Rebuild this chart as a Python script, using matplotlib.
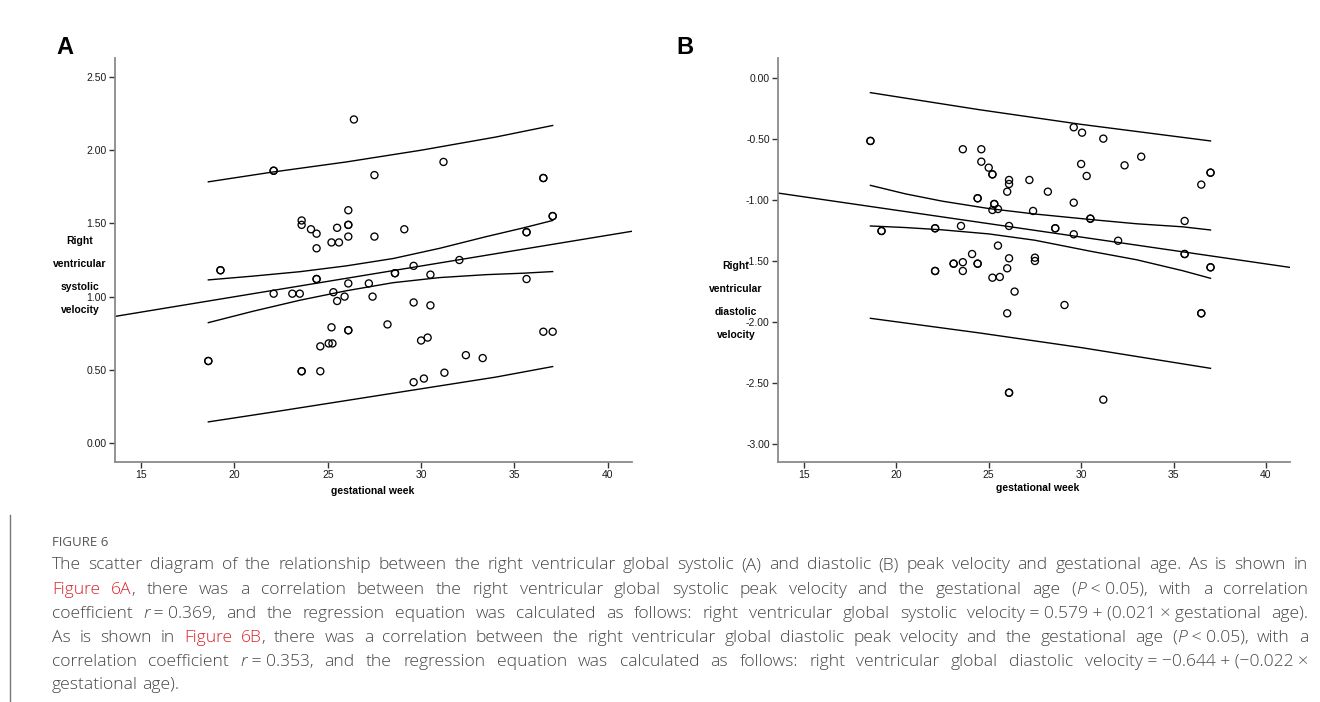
import matplotlib
matplotlib.use("Agg")
import matplotlib.pyplot as plt
import numpy as np

W, H = 1320, 702

# ---- panel A: right ventricular systolic velocity vs gestational week ----
weeks_a = [18.6, 18.6, 19.25, 19.25, 22.1, 22.1, 22.1, 23.1, 23.5, 23.6, 23.6, 23.6, 23.6,
           24.1, 24.4, 24.4, 24.4, 24.4, 24.6, 24.6, 25.05, 25.2, 25.2, 25.25, 25.3,
           25.5, 25.5, 25.6, 25.9, 26.1, 26.1, 26.1, 26.1, 26.1, 26.1, 26.1, 26.4,
           27.2, 27.4, 27.5, 27.5, 28.2, 28.6, 28.6, 29.1, 29.6, 29.6, 29.6, 30.0,
           30.15, 30.35, 30.5, 30.5, 31.2, 31.25, 32.05, 32.4, 33.3, 35.65, 35.65,
           35.65, 36.55, 36.55, 36.55, 37.05, 37.05, 37.05]
sys_vel = [0.56, 0.56, 1.18, 1.18, 1.86, 1.86, 1.02, 1.02, 1.02, 1.52, 1.49, 0.49, 0.49,
           1.46, 1.43, 1.33, 1.12, 1.12, 0.66, 0.49, 0.68, 1.37, 0.79, 0.68, 1.03,
           1.47, 0.97, 1.37, 1.00, 1.59, 1.49, 1.49, 1.41, 1.09, 0.77, 0.77, 2.21,
           1.09, 1.00, 1.83, 1.41, 0.81, 1.16, 1.16, 1.46, 1.21, 0.96, 0.415, 0.70,
           0.44, 0.72, 1.15, 0.94, 1.92, 0.48, 1.25, 0.60, 0.58, 1.44, 1.44,
           1.12, 1.81, 1.81, 0.76, 1.55, 1.55, 0.76]

# regression from caption: intercept, slope
fit_a = (0.579, 0.021)
# mean confidence band
ci_x_a = [18.6, 21.0, 23.5, 26.0, 28.5, 31.0, 33.5, 35.5, 37.05]
ci_hi_a = [1.114, 1.14, 1.17, 1.21, 1.26, 1.33, 1.41, 1.47, 1.52]
ci_lo_a = [0.822, 0.90, 0.975, 1.04, 1.095, 1.13, 1.15, 1.16, 1.171]
# individual prediction band
pi_x_a = [18.6, 22.0, 26.0, 30.0, 34.0, 37.05]
pi_hi_a = [1.784, 1.85, 1.92, 2.00, 2.09, 2.169]
pi_lo_a = [0.144, 0.21, 0.29, 0.37, 0.45, 0.522]

# ---- panel B: right ventricular diastolic velocity vs gestational week ----
weeks_b = [18.6, 18.6, 19.2, 19.2, 22.1, 22.1, 22.1, 22.1, 23.1, 23.1, 23.5, 23.6, 23.6,
           23.6, 24.1, 24.4, 24.4, 24.4, 24.4, 24.6, 24.6, 25.0, 25.2, 25.2, 25.2,
           25.2, 25.3, 25.3, 25.5, 25.5, 25.6, 26.0, 26.0, 26.0, 26.1, 26.1, 26.1,
           26.1, 26.1, 26.1, 26.4, 27.2, 27.4, 27.5, 27.5, 28.2, 28.6, 28.6, 29.1,
           29.6, 29.6, 29.6, 30.0, 30.05, 30.3, 30.5, 30.5, 31.2, 31.2, 32.0, 32.35,
           33.25, 35.6, 35.6, 35.6, 36.5, 36.5, 36.5, 37.0, 37.0, 37.0, 37.0]
dia_vel = [-0.516, -0.516, -1.254, -1.254, -1.232, -1.232, -1.582, -1.582, -1.522, -1.522,
           -1.213, -0.584, -1.51, -1.582, -1.443, -0.986, -0.986, -1.522, -1.522, -0.584,
           -0.686, -0.735, -0.79, -0.79, -1.082, -1.637, -1.033, -1.033, -1.074, -1.374,
           -1.631, -0.932, -1.56, -1.929, -0.836, -0.869, -1.213, -1.478, -2.58, -2.58,
           -1.751, -0.836, -1.09, -1.473, -1.50, -0.932, -1.232, -1.232, -1.861,
           -0.404, -1.022, -1.281, -0.705, -0.448, -0.803, -1.153, -1.153, -0.497,
           -2.637, -1.334, -0.716, -0.645, -1.172, -1.443, -1.443, -0.874, -1.929,
           -1.929, -0.776, -0.776, -1.552, -1.552]

fit_b = (-0.644, -0.022)
ci_x_b = [18.6, 20.5, 22.5, 25.0, 27.5, 30.5, 33.0, 35.5, 37.0]
ci_hi_b = [-0.88, -0.95, -1.01, -1.07, -1.115, -1.16, -1.195, -1.22, -1.246]
ci_lo_b = [-1.213, -1.226, -1.245, -1.278, -1.33, -1.42, -1.49, -1.58, -1.642]
pi_x_b = [18.6, 24.5, 30.0, 37.0]
pi_hi_b = [-0.12, -0.26, -0.38, -0.516]
pi_lo_b = [-1.97, -2.09, -2.21, -2.38]

x_ticks = [15, 20, 25, 30, 35, 40]
y_ticks_a = [0.0, 0.5, 1.0, 1.5, 2.0, 2.5]
y_ticks_b = [-3.0, -2.5, -2.0, -1.5, -1.0, -0.5, 0.0]

CHART_FONT = ["Liberation Sans", "DejaVu Sans"]
CAP_FONT = ["Open Sans", "DejaVu Sans"]
CAP_GREY = "#474747"
CAP_RED = "#d9262e"


def fx(px):
    return px / W


def fy(py):
    return 1 - py / H


def draw_panel(ax, weeks, vals, fit, ci_x, ci_hi, ci_lo, pi_x, pi_hi, pi_lo, yticks, ylim):
    ax.set_xlim(13.6, 41.3)
    ax.set_ylim(*ylim)
    xs = np.array(ax.get_xlim())
    ax.plot(xs, fit[0] + fit[1] * xs, color="black", lw=1.0)
    for bx, by in ((ci_x, ci_hi), (ci_x, ci_lo), (pi_x, pi_hi), (pi_x, pi_lo)):
        ax.plot(bx, by, color="black", lw=1.0)
    ax.scatter(weeks, vals, s=26, facecolors="none", edgecolors="black", linewidths=0.95, zorder=3)
    for side in ("top", "right"):
        ax.spines[side].set_visible(False)
    for side in ("left", "bottom"):
        ax.spines[side].set_color("#8a8a8a")
        ax.spines[side].set_linewidth(1.3)
    ax.set_xticks(x_ticks)
    ax.set_yticks(yticks)
    ax.set_yticklabels([f"{v:.2f}" for v in yticks])
    ax.tick_params(direction="out", length=4, width=1, color="#333", labelsize=7.5,
                   labelcolor="#1a1a1a", pad=2)
    for lab in ax.get_xticklabels() + ax.get_yticklabels():
        lab.set_family(CHART_FONT)


fig = plt.figure(figsize=(W / 100, H / 100), dpi=100)

ax_a = fig.add_axes([fx(115), fy(462), fx(632 - 115), (462 - 58) / H])
draw_panel(ax_a, weeks_a, sys_vel, fit_a, ci_x_a, ci_hi_a, ci_lo_a, pi_x_a, pi_hi_a, pi_lo_a,
           y_ticks_a, (-0.13, 2.63))

ax_b = fig.add_axes([fx(778), fy(462), fx(1290 - 778), (462 - 58) / H])
draw_panel(ax_b, weeks_b, dia_vel, fit_b, ci_x_b, ci_hi_b, ci_lo_b, pi_x_b, pi_hi_b, pi_lo_b,
           y_ticks_b, (-3.148, 0.164))

# panel letters
fig.text(fx(65), fy(47), "A", fontsize=17, fontweight="bold", family=CHART_FONT,
         ha="center", va="center")
fig.text(fx(685), fy(47), "B", fontsize=17, fontweight="bold", family=CHART_FONT,
         ha="center", va="center")

# stacked y labels (SPSS style)
ylab_a = [("Right", 241), ("ventricular", 264), ("systolic", 287), ("velocity", 310)]
ylab_b = [("Right", 266), ("ventricular", 289), ("diastolic", 312), ("velocity", 335)]
for word, py in ylab_a:
    fig.text(fx(80), fy(py), word, fontsize=7.5, fontweight="bold", family=CHART_FONT,
             ha="center", va="center")
for word, py in ylab_b:
    fig.text(fx(736), fy(py), word, fontsize=7.5, fontweight="bold", family=CHART_FONT,
             ha="center", va="center")

fig.text(fx(373), fy(491), "gestational week", fontsize=7.5, fontweight="bold",
         family=CHART_FONT, ha="center", va="center")
fig.text(fx(1038), fy(488), "gestational week", fontsize=7.5, fontweight="bold",
         family=CHART_FONT, ha="center", va="center")

# ---- caption ----
fig.add_artist(plt.Line2D([fx(10), fx(10)], [fy(515), fy(702)], color="#777", lw=1))
fig.text(fx(52), fy(546), "FIGURE 6", fontsize=9.5, color="#555555", family=CAP_FONT,
         va="baseline", ha="left")

# ^ toggles red, ~ toggles italic, \u00a0 keeps pieces in one word
caption_lines = [
    "The scatter diagram of the relationship between the right ventricular global systolic (A) "
    "and diastolic (B) peak velocity and gestational age. As is shown in",
    "^Figure 6A^, there was a correlation between the right ventricular global systolic peak "
    "velocity and the gestational age (~P~\u00a0<\u00a00.05), with a correlation",
    "coefficient ~r~\u00a0=\u00a00.369, and the regression equation was calculated as follows: right "
    "ventricular global systolic velocity\u00a0=\u00a00.579\u00a0+\u00a0(0.021\u00a0×\u00a0gestational age).",
    "As is shown in ^Figure 6B^, there was a correlation between the right ventricular global "
    "diastolic peak velocity and the gestational age (~P~\u00a0<\u00a00.05), with a",
    "correlation coefficient ~r~\u00a0=\u00a00.353, and the regression equation was calculated as "
    "follows: right ventricular global diastolic velocity\u00a0=\u00a0−0.644\u00a0+\u00a0(−0.022\u00a0×",
    "gestational age).",
]
caption_baselines = [569, 594, 618, 642, 666, 689]
CAP_LEFT, CAP_RIGHT = 52, 1308

renderer = fig.canvas.get_renderer()
state = {"red": False, "ital": False}
for i, (line, base) in enumerate(zip(caption_lines, caption_baselines)):
    words = []
    for raw in line.split(" "):
        pieces, buf = [], ""
        for ch in raw:
            if ch in "^~":
                if buf:
                    pieces.append((buf, state["red"], state["ital"]))
                    buf = ""
                key = "red" if ch == "^" else "ital"
                state[key] = not state[key]
            else:
                buf += ch
        if buf:
            pieces.append((buf, state["red"], state["ital"]))
        arts = []
        for txt, red, ital in pieces:
            t = fig.text(0, fy(base), txt.replace("\u00a0", " "), fontsize=12.6,
                         fontweight="light", color=CAP_RED if red else CAP_GREY,
                         family=CAP_FONT, style="italic" if ital else "normal",
                         va="baseline", ha="left")
            arts.append((t, t.get_window_extent(renderer).width))
        words.append(arts)
    widths = [sum(w for _, w in arts) for arts in words]
    last = i == len(caption_lines) - 1
    if last or len(words) < 2:
        gap = 4.5
    else:
        gap = (CAP_RIGHT - CAP_LEFT - sum(widths)) / (len(words) - 1)
    x = CAP_LEFT
    for arts, wd in zip(words, widths):
        px = x
        for t, w in arts:
            t.set_x(fx(px))
            px += w
        x += wd + gap

fig.savefig("out.png", dpi=100)
